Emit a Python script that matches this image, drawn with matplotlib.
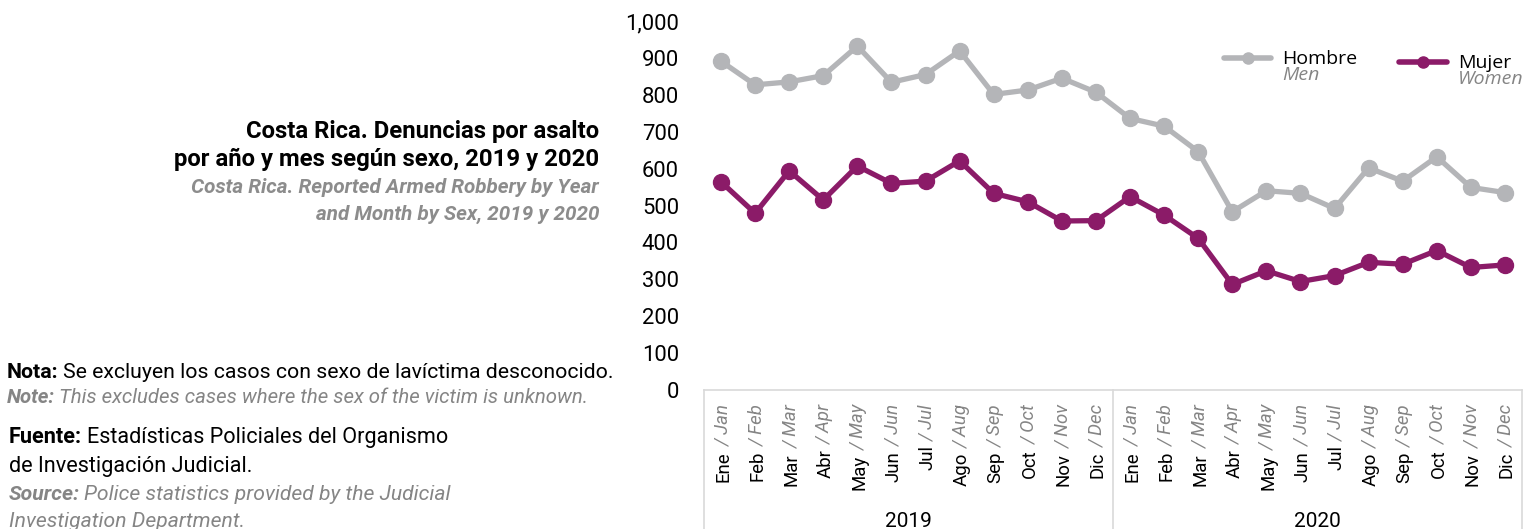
import matplotlib
matplotlib.use('Agg')
import matplotlib.pyplot as plt
from matplotlib.lines import Line2D
from matplotlib.ticker import FuncFormatter

# datos
meses_es = ['Ene', 'Feb', 'Mar', 'Abr', 'May', 'Jun', 'Jul', 'Ago', 'Sep', 'Oct', 'Nov', 'Dic']
meses_en = ['Jan', 'Feb', 'Mar', 'Apr', 'May', 'Jun', 'Jul', 'Aug', 'Sep', 'Oct', 'Nov', 'Dec']
anios = ['2019', '2020']
hombre = [891, 827, 835, 852, 932, 834, 855, 919, 801, 813, 845, 807,
          736, 715, 646, 483, 540, 533, 492, 602, 566, 632, 549, 535]
mujer = [564, 479, 594, 515, 607, 560, 566, 621, 533, 510, 458, 459,
         524, 474, 411, 286, 323, 294, 310, 346, 341, 378, 332, 339]

GRIS = '#B4B5B8'
MORADO = '#8B1B68'
TXT_GRIS = '#858585'
LINEA = '#D9D9D9'

plt.rcParams['font.family'] = ['Roboto', 'DejaVu Sans']

W, H = 1525, 529
fig = plt.figure(figsize=(W / 100, H / 100), dpi=100)
r = fig.canvas.get_renderer()


def fx(px):
    return px / W


def fy(py):
    return 1 - py / H


ax = fig.add_axes([fx(704), fy(390), (1522 - 704) / W, (390 - 21) / H])

x = list(range(len(hombre)))
ax.plot(x, hombre, color=GRIS, lw=3.8, marker='o', ms=11.5, zorder=3)
ax.plot(x, mujer, color=MORADO, lw=3.8, marker='o', ms=11.5, zorder=3)

ax.set_xlim(-0.5, 23.5)
ax.set_ylim(0, 1000)
ax.set_yticks(range(0, 1001, 100))
ax.yaxis.set_major_formatter(FuncFormatter(lambda v, p: '{:,.0f}'.format(v)))
ax.tick_params(axis='y', length=0, pad=18, labelsize=15.8)
ax.set_xticks([])
for s in ['top', 'right', 'left']:
    ax.spines[s].set_visible(False)
ax.spines['bottom'].set_color(LINEA)
ax.spines['bottom'].set_linewidth(1.2)

# caja de categorias
tr = ax.get_xaxis_transform()
for xs in [-0.5, 11.5, 23.5]:
    ax.plot([xs, xs], [0, -0.5], transform=tr, clip_on=False, color=LINEA, lw=1.2)

# etiquetas de meses (espanol negro + ingles gris cursiva)
y_top = -(405 - 390) / 369
for i in x:
    en = ax.text(i, y_top, '/ ' + meses_en[i % 12], transform=tr, rotation=90,
                 rotation_mode='anchor', ha='right', va='center_baseline',
                 color=TXT_GRIS, style='italic', fontsize=13.4)
    bb = en.get_window_extent(r)
    y_es = ax.transAxes.inverted().transform((0, bb.y0 - 4))[1]
    ax.text(i, y_es, meses_es[i % 12], transform=tr, rotation=90,
            rotation_mode='anchor', ha='right', va='center_baseline',
            color='black', fontsize=13.4)

for k, a in enumerate(anios):
    ax.text(5.5 + 12 * k, -(527 - 390) / 369, a, transform=tr, ha='center',
            va='baseline', fontsize=15)

# leyenda
for (x0, x1, yl, col, es, en_t) in [(1224, 1271, 58, GRIS, 'Hombre', 'Men'),
                                    (1399, 1447, 62, MORADO, 'Mujer', 'Women')]:
    fig.add_artist(Line2D([fx(x0), fx((x0 + x1) / 2), fx(x1)], [fy(yl)] * 3,
                          color=col, lw=4, marker='o', ms=8, markevery=[1],
                          solid_capstyle='round'))
    fig.text(fx(x1 + 11), fy(yl + 6), es, fontsize=14, family='Open Sans',
             va='baseline')
    fig.text(fx(x1 + 11), fy(yl + 22), en_t, fontsize=14, family='Open Sans',
             style='italic', color=TXT_GRIS, va='baseline')

# titulo
fig.text(fx(599), fy(138), 'Costa Rica. Denuncias por asalto', ha='right',
         va='baseline', fontsize=17.2, weight='bold')
fig.text(fx(599), fy(166), 'por año y mes según sexo, 2019 y 2020', ha='right',
         va='baseline', fontsize=17.2, weight='bold')
fig.text(fx(599), fy(193), 'Costa Rica. Reported Armed Robbery by Year', ha='right',
         va='baseline', fontsize=14.9, weight='bold', style='italic', color='#8C8C8C')
fig.text(fx(599), fy(220), 'and Month by Sex, 2019 y 2020', ha='right',
         va='baseline', fontsize=14.9, weight='bold', style='italic', color='#8C8C8C')


def run(x0, y0, parts, gap=4.5):
    xp = x0
    for txt, kw in parts:
        t = fig.text(fx(xp), fy(y0), txt, va='baseline', ha='left', **kw)
        xp += t.get_window_extent(r).width + gap


run(7, 378, [('Nota:', dict(fontsize=15.3, weight='bold')),
             ('Se excluyen los casos con sexo de lavíctima desconocido.', dict(fontsize=15.3))])
run(7, 403, [('Note:', dict(fontsize=14.7, weight='bold', style='italic', color=TXT_GRIS)),
             ('This excludes cases where the sex of the victim is unknown.',
              dict(fontsize=14.7, style='italic', color=TXT_GRIS))], gap=4)
run(9, 443, [('Fuente:', dict(fontsize=15.6, weight='bold')),
             ('Estadísticas Policiales del Organismo', dict(fontsize=15.6))])
fig.text(fx(9), fy(472), 'de Investigación Judicial.', fontsize=15.6, va='baseline')
run(9, 500, [('Source:', dict(fontsize=15.2, weight='bold', style='italic', color=TXT_GRIS)),
             ('Police statistics provided by the Judicial',
              dict(fontsize=15.2, style='italic', color=TXT_GRIS))], gap=4)
fig.text(fx(9), fy(527), 'Investigation Department.', fontsize=15.2, style='italic',
         color=TXT_GRIS, va='baseline')

fig.savefig('out.png', dpi=100)
